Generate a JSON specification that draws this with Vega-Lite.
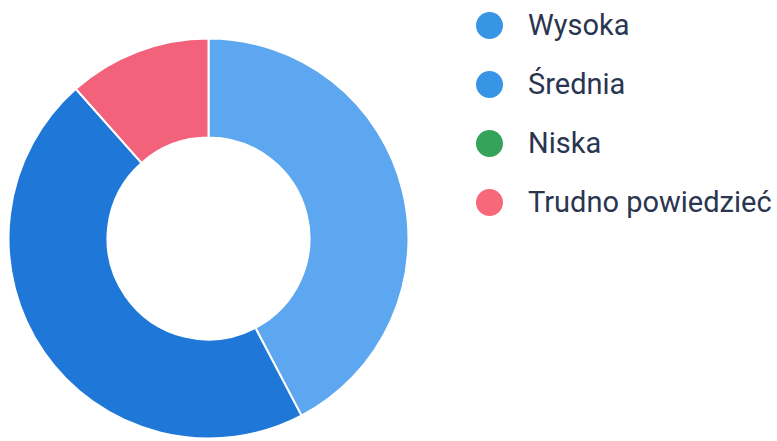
{
  "$schema": "https://vega.github.io/schema/vega-lite/v6.json",
  "width": 401,
  "height": 401,
  "padding": {"left": 8, "top": 38, "right": 368, "bottom": 2},
  "autosize": {"type": "none"},
  "background": "white",
  "config": {"view": {"stroke": null}},
  "data": {"values": [
    {"odpowiedz": "Wysoka", "liczba": 11, "kolejnosc": 1},
    {"odpowiedz": "Średnia", "liczba": 12, "kolejnosc": 2},
    {"odpowiedz": "Niska", "liczba": 0, "kolejnosc": 3},
    {"odpowiedz": "Trudno powiedzieć", "liczba": 3, "kolejnosc": 4}
  ]},
  "layer": [
    {
      "mark": {"type": "arc", "outerRadius": 200, "innerRadius": 101, "stroke": "white", "strokeWidth": 2},
      "encoding": {
        "theta": {"field": "liczba", "type": "quantitative", "stack": true},
        "order": {"field": "kolejnosc", "type": "quantitative"},
        "fill": {
          "field": "odpowiedz",
          "type": "nominal",
          "sort": ["Wysoka", "Średnia", "Niska", "Trudno powiedzieć"],
          "scale": {
            "range": ["#5ca7ef", "#1f78d7", "#35a35a", "#f2637b"]
          },
          "legend": null
        }
      }
    },
    {
      "mark": {"type": "point", "filled": true, "size": 0, "opacity": 1, "shape": "circle"},
      "encoding": {
        "color": {
          "field": "odpowiedz",
          "type": "nominal",
          "sort": ["Wysoka", "Średnia", "Niska", "Trudno powiedzieć"],
          "scale": {
            "domain": ["Wysoka", "Średnia", "Niska", "Trudno powiedzieć"],
            "range": ["#3894e4", "#3894e4", "#35a35a", "#f8687b"]
          },
          "legend": {
            "title": null,
            "orient": "none",
            "legendX": 467,
            "legendY": -27,
            "padding": 0,
            "symbolType": "circle",
            "symbolSize": 729,
            "symbolStrokeWidth": 0,
            "symbolOpacity": 1,
            "labelFont": "Roboto",
            "labelFontSize": 29,
            "labelColor": "#2a3550",
            "labelOffset": 24,
            "labelLimit": 400,
            "rowPadding": 29
          }
        }
      }
    }
  ]
}
